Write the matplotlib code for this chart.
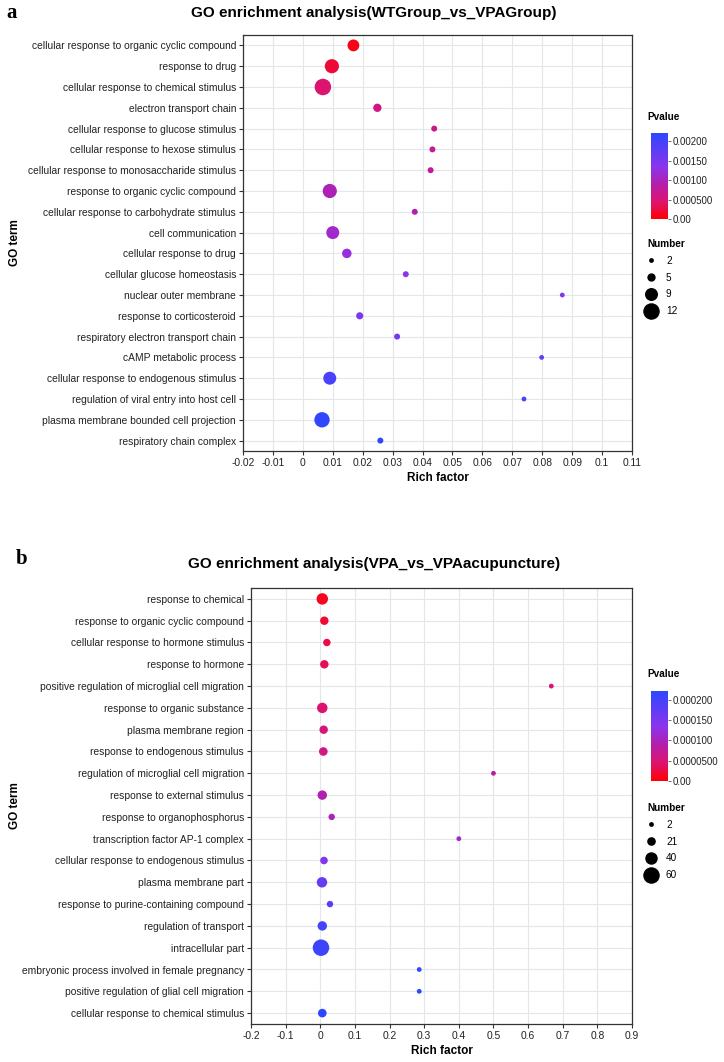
import matplotlib
matplotlib.use('Agg')
import matplotlib.pyplot as plt
import numpy as np
from matplotlib.colors import LinearSegmentedColormap, Normalize
from matplotlib.lines import Line2D

plt.rcParams['font.family'] = ['Liberation Sans', 'DejaVu Sans']

# ---- panel a data ----
terms_a = [
    'cellular response to organic cyclic compound',
    'response to drug',
    'cellular response to chemical stimulus',
    'electron transport chain',
    'cellular response to glucose stimulus',
    'cellular response to hexose stimulus',
    'cellular response to monosaccharide stimulus',
    'response to organic cyclic compound',
    'cellular response to carbohydrate stimulus',
    'cell communication',
    'cellular response to drug',
    'cellular glucose homeostasis',
    'nuclear outer membrane',
    'response to corticosteroid',
    'respiratory electron transport chain',
    'cAMP metabolic process',
    'cellular response to endogenous stimulus',
    'regulation of viral entry into host cell',
    'plasma membrane bounded cell projection',
    'respiratory chain complex',
]
rich_a = [0.0169, 0.0097, 0.0067, 0.0249, 0.0439, 0.0433, 0.0427, 0.0090, 0.0374, 0.0100,
          0.0147, 0.0344, 0.0867, 0.0190, 0.0315, 0.0798, 0.0090, 0.0739, 0.0064, 0.0259]
count_a = [8, 10, 12, 5, 3, 3, 3, 10, 3, 9, 6, 3, 2, 4, 3, 2, 9, 2, 11, 3]
pval_a = [0.00008, 0.00020, 0.00040, 0.00052, 0.00060, 0.00064, 0.00068, 0.00088, 0.00084, 0.00100,
          0.00110, 0.00120, 0.00128, 0.00134, 0.00142, 0.00150, 0.00175, 0.00178, 0.00196, 0.00215]
size_breaks_a = [2, 5, 9, 12]
pticks_a = [0, 0.0005, 0.001, 0.0015, 0.002]
plabels_a = ['0.00', '0.000500', '0.00100', '0.00150', '0.00200']

# ---- panel b data ----
terms_b = [
    'response to chemical',
    'response to organic cyclic compound',
    'cellular response to hormone stimulus',
    'response to hormone',
    'positive regulation of microglial cell migration',
    'response to organic substance',
    'plasma membrane region',
    'response to endogenous stimulus',
    'regulation of microglial cell migration',
    'response to external stimulus',
    'response to organophosphorus',
    'transcription factor AP-1 complex',
    'cellular response to endogenous stimulus',
    'plasma membrane part',
    'response to purine-containing compound',
    'regulation of transport',
    'intracellular part',
    'embryonic process involved in female pregnancy',
    'positive regulation of glial cell migration',
    'cellular response to chemical stimulus',
]
rich_b = [0.0058, 0.0117, 0.019, 0.0117, 0.667, 0.0058, 0.0098, 0.0088, 0.5, 0.0058,
          0.033, 0.4, 0.0107, 0.005, 0.028, 0.0058, 0.0021, 0.2857, 0.2857, 0.0058]
count_b = [35, 20, 15, 20, 2, 30, 20, 21, 2, 25, 10, 2, 16, 30, 10, 25, 60, 2, 2, 21]
pval_b = [0.000011, 0.000018, 0.000026, 0.000031, 0.000042, 0.000040, 0.000048, 0.000055, 0.000075, 0.000083,
          0.000088, 0.000100, 0.000128, 0.000150, 0.000163, 0.000176, 0.000185, 0.000194, 0.000198, 0.000213]
size_breaks_b = [2, 21, 40, 60]
pticks_b = [0, 0.00005, 0.0001, 0.00015, 0.0002]
plabels_b = ['0.00', '0.0000500', '0.000100', '0.000150', '0.000200']

cmap = LinearSegmentedColormap.from_list('pv', [
    (0.0, '#FF0000'), (0.2, '#DC1470'), (0.4, '#B41EAA'),
    (0.6, '#8C34EC'), (0.8, '#5C3EF6'), (1.0, '#2C48FF')])

W, H = 724, 1062
fig = plt.figure(figsize=(W / 100, H / 100), dpi=100)


def fx(px):
    return px / W


def fy(py):
    return 1 - py / H


def diam(n, nmin, nmax, dmin=4.8, dmax=16.5):
    return dmin + (dmax - dmin) * (np.asarray(n, float) - nmin) / (nmax - nmin)


def panel(box, terms, rich, count, pval, vmax, xlim, step, breaks,
          pticks, plabels, title, letter, letter_xy, title_y, cbar_box, ptitle_y, leg_y):
    left, top, right, bottom = box
    ax = fig.add_axes([fx(left), fy(bottom), fx(right - left), (bottom - top) / H])
    y = np.arange(len(terms))
    nmin, nmax = min(breaks), max(breaks)
    d_pt = diam(count, nmin, nmax) * 0.72
    norm = Normalize(0, vmax)
    ax.scatter(rich, y, s=d_pt ** 2, c=pval, cmap=cmap, norm=norm,
               linewidths=0, zorder=3)
    ax.set_xlim(*xlim)
    ax.set_ylim(len(terms) - 0.5, -0.5)
    xt = np.round(np.arange(xlim[0], xlim[1] + step / 2, step), 2)
    ax.set_xticks(xt)
    ax.set_xticklabels([f'{v:g}' for v in xt])
    ax.set_yticks(y)
    ax.set_yticklabels(terms)
    ax.grid(True, color='#E3E7EB', lw=0.8, zorder=0)
    ax.set_axisbelow(True)
    for sp in ax.spines.values():
        sp.set_color('#333333')
        sp.set_linewidth(0.9)
    ax.tick_params(axis='both', labelsize=7.4, colors='#333333', labelcolor='#222222',
                   length=3, width=0.8, pad=2)
    ax.set_xlabel('Rich factor', fontsize=8.5, fontweight='bold', labelpad=3)
    fig.text(fx(15), fy((top + bottom) / 2), 'GO term', rotation=90, fontsize=8.5,
             fontweight='bold', ha='center', va='center')
    fig.text(fx(374), fy(title_y), title, fontsize=11, fontweight='bold',
             ha='center', va='center')
    fig.text(fx(letter_xy[0]), fy(letter_xy[1]), letter, fontsize=15, fontweight='bold',
             family='Liberation Serif', ha='center', va='center')

    # colour bar
    cl, ct, cr, cb = cbar_box
    cax = fig.add_axes([fx(cl), fy(cb), fx(cr - cl), (cb - ct) / H])
    sm = plt.cm.ScalarMappable(norm=Normalize(0, vmax * 1.105), cmap=cmap)
    cbar = fig.colorbar(sm, cax=cax)
    cbar.outline.set_visible(False)
    cbar.set_ticks(pticks)
    cbar.set_ticklabels(plabels)
    cax.tick_params(labelsize=7, length=2, width=0.6, colors='#555555',
                    labelcolor='#222222', pad=1)
    fig.text(fx(647), fy(ptitle_y), 'Pvalue', fontsize=7.2, fontweight='bold',
             ha='left', va='center')

    # size legend
    handles = [Line2D([], [], marker='o', ls='', color='black', markeredgewidth=0,
                      markersize=float(diam(b, nmin, nmax)) * 0.72) for b in breaks]
    fig.legend(handles, [str(b) for b in breaks], title='Number',
               loc='upper left', bbox_to_anchor=(fx(647), fy(leg_y)),
               frameon=False, fontsize=7.2, borderpad=0, borderaxespad=0,
               handlelength=0.8, handletextpad=1.1, labelspacing=0.68,
               alignment='left',
               title_fontproperties={'weight': 'bold', 'size': 7.2})
    return ax


panel((243, 35, 632, 451), terms_a, rich_a, count_a, pval_a, 0.002,
      (-0.02, 0.11), 0.01, size_breaks_a, pticks_a, plabels_a,
      'GO enrichment analysis(WTGroup_vs_VPAGroup)', 'a', (12, 13), 13,
      (651, 133, 668, 219), 117, 239)

panel((251, 588, 632, 1024), terms_b, rich_b, count_b, pval_b, 0.0002,
      (-0.2, 0.9), 0.1, size_breaks_b, pticks_b, plabels_b,
      'GO enrichment analysis(VPA_vs_VPAacupuncture)', 'b', (22, 559), 564,
      (651, 691, 668, 781), 674, 803)

fig.savefig('out.png', dpi=100)
